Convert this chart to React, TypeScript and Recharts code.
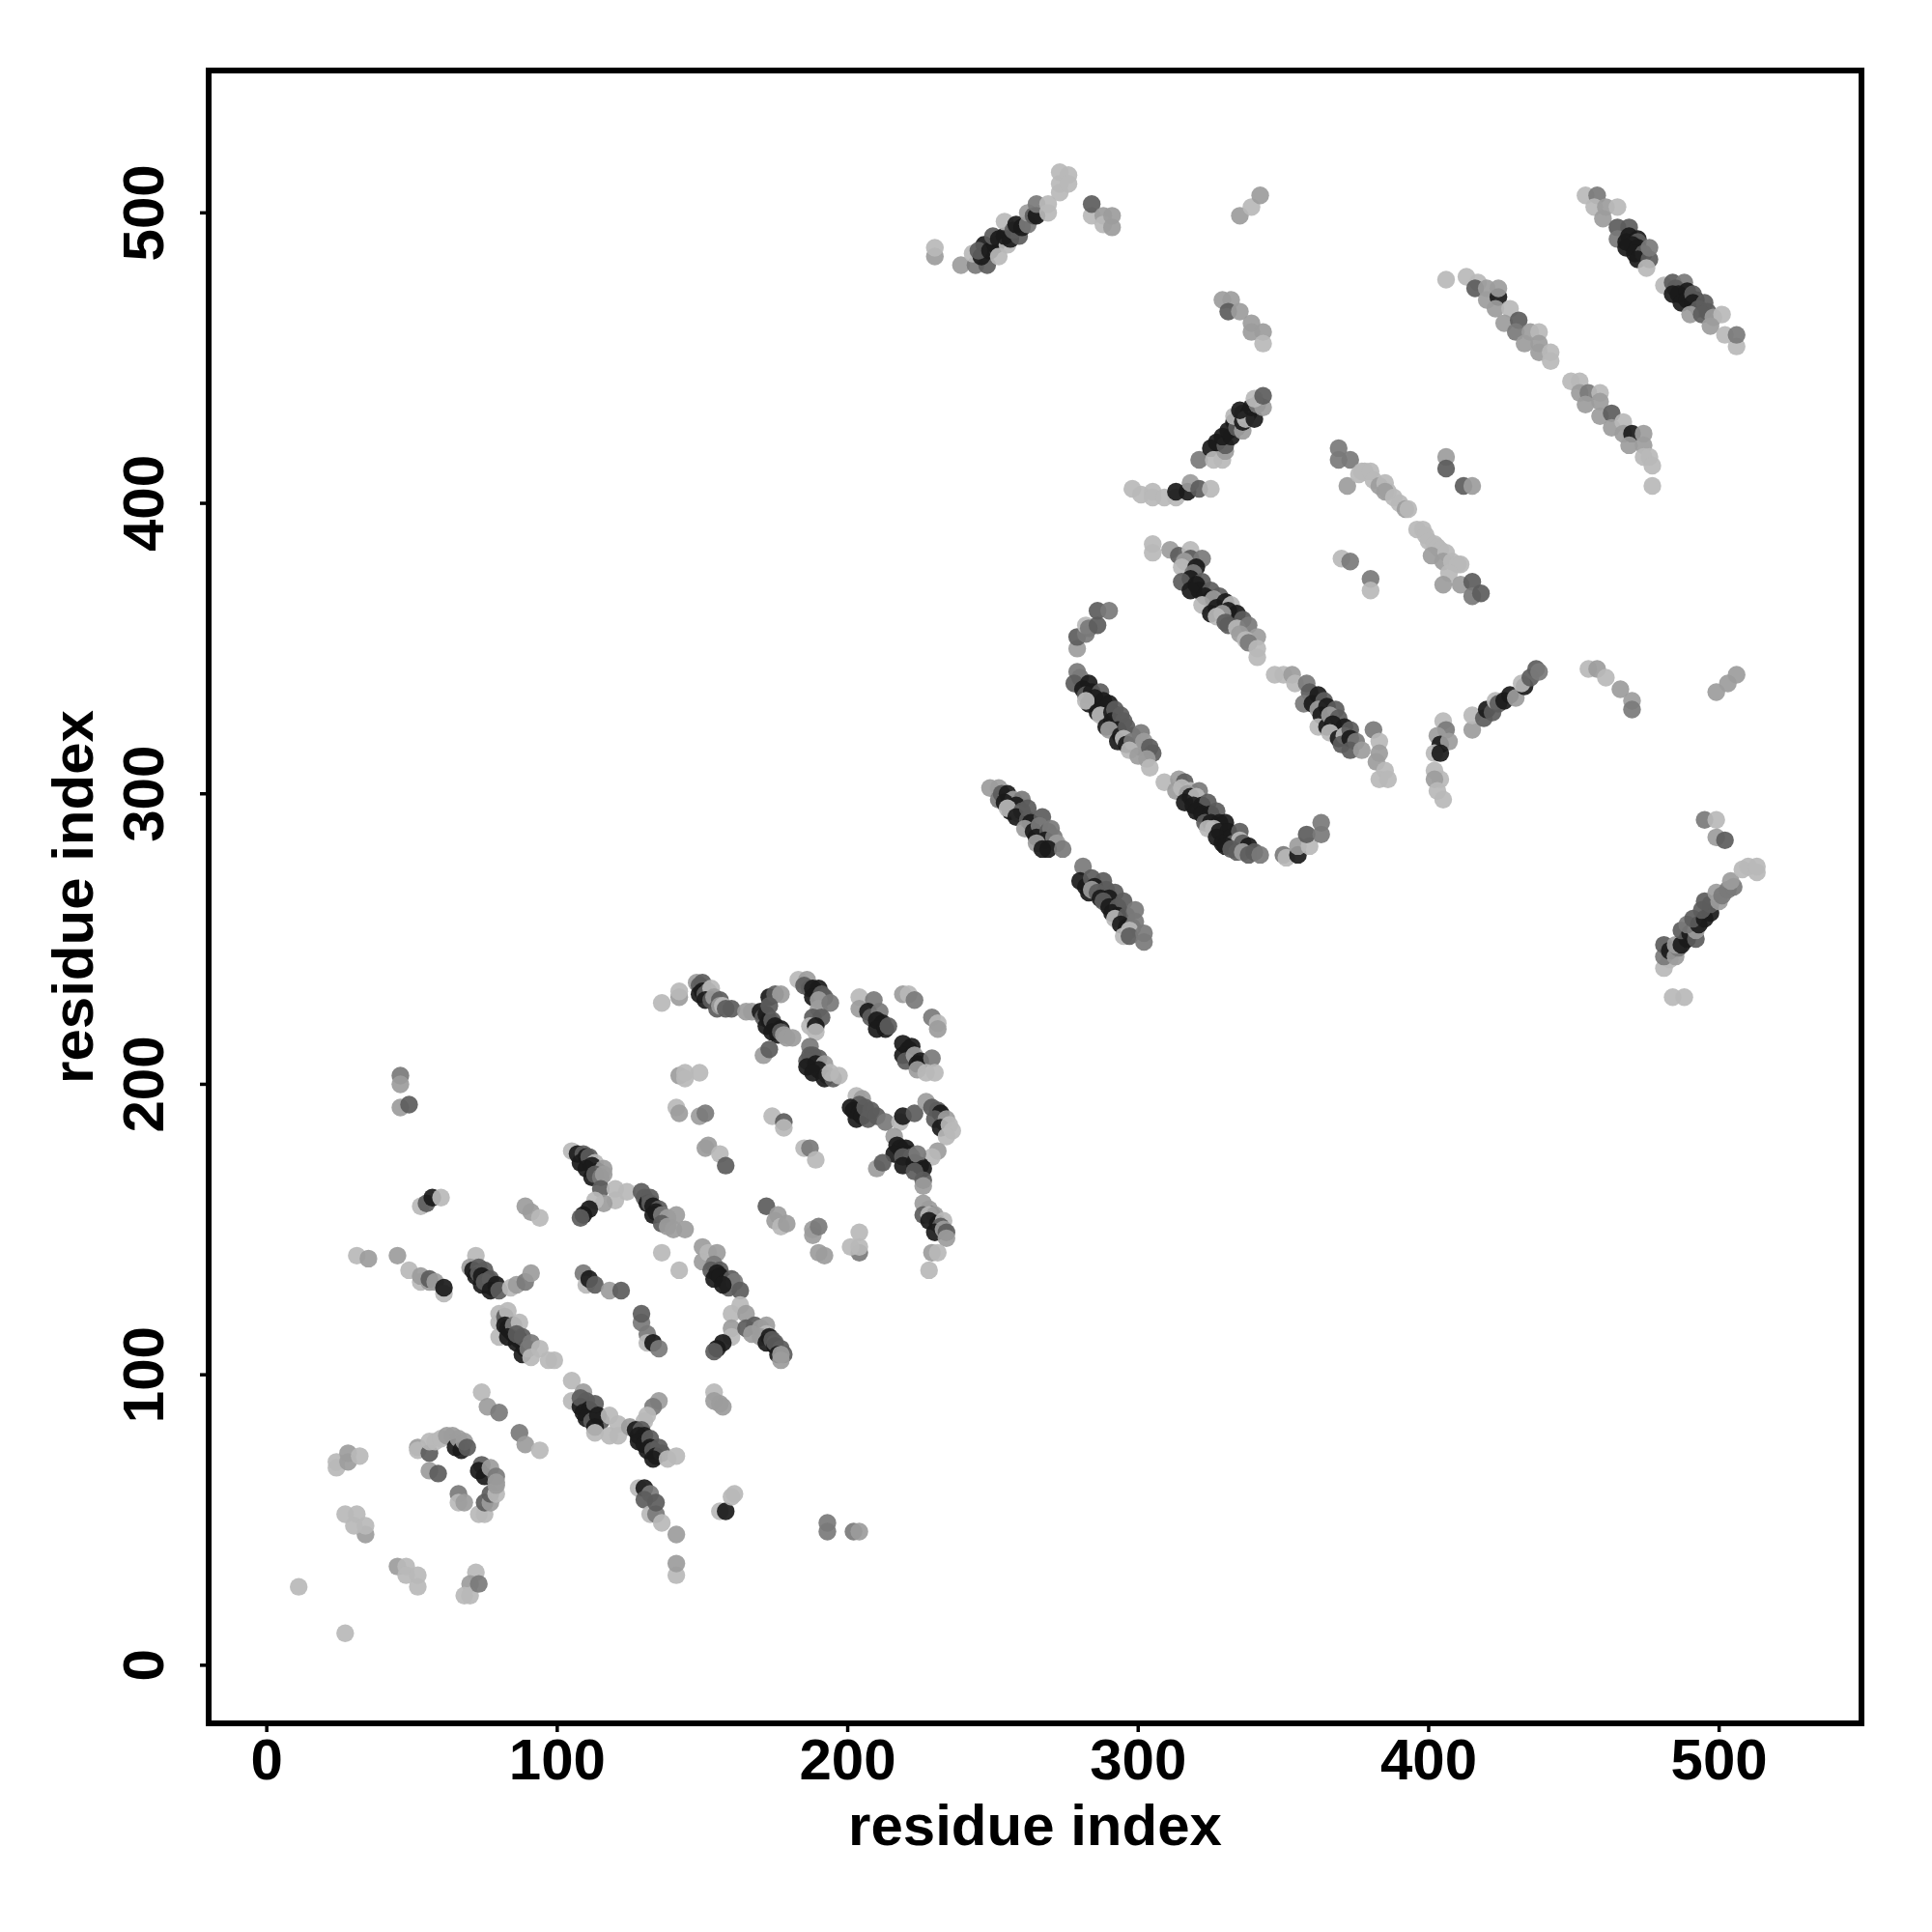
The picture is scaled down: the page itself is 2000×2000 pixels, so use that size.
import { ScatterChart, Scatter, XAxis, YAxis, ReferenceArea } from "recharts"

// contacts: [residue i, residue j, shade level 1 (weak) .. 5 (strong)]
type Contact = [number, number, number]

const cornerLowLeft: Contact[] = [
  [27,11,1],[11,27,1],[45,34,2],[48,34,1],[48,31,1],[52,31,1],[52,27,1],[72,32,1],[70,28,2],[68,24,1],[70,24,1],[73,28,3],
  [27,52,1],[31,52,1],[34,45,2],[30,48,1],[34,48,1],[24,68,1],[24,70,1],[28,70,2],[28,73,2],[32,72,1],
]
const hairpinLow: Contact[] = [
  [52,75,2],[52,74,1],[56,73,4],[56,77,1],[58,77,1],[60,78,1],[62,79,2],[64,79,2],[65,75,5],[66,78,2],[67,74,5],[68,77,2],[69,75,4],
  [56,67,2],[59,66,4],[66,59,3],[66,56,1],[68,56,2],[73,52,1],[75,52,1],[75,56,4],[77,56,2],[77,59,4],[79,59,1],[79,62,2],
  [74,69,4],[73,67,5],[75,65,5],[77,68,2],[79,65,3],[79,63,2],[74,94,1],[76,89,2],[80,87,3],[87,80,3],[89,76,2],[94,74,1],
]
const stripeLeft: Contact[] = [
  [31,141,1],[35,140,2],[45,141,2],[49,136,1],[53,132,1],[53,134,2],[56,132,2],[56,133,4],[58,132,2],[61,128,1],[61,130,5],
  [72,141,1],[70,137,2],[71,136,5],[73,137,4],[72,134,5],[75,136,4],[74,131,5],[73,135,4],[74,134,5],[76,133,5],[76,131,5],[78,130,5],[75,132,4],[77,133,4],[77,129,5],[79,131,5],[80,129,4],[84,130,1],[86,131,2],[89,132,3],[91,135,2],
  [80,121,1],[80,118,1],[80,113,1],[82,120,4],[83,116,5],[83,122,1],[82,117,5],[84,115,5],[85,114,5],[85,117,3],[87,118,1],[83,113,5],[86,111,5],[87,112,5],[89,109,5],[86,114,4],[88,113,4],[88,107,5],[90,109,3],[91,111,3],[91,106,1],[94,109,1],[97,105,1],[99,105,1],
  [105,98,1],[105,91,1],[109,94,2],[110,91,4],[108,89,5],[108,92,4],[111,88,5],[112,87,5],[109,87,5],[113,90,4],[110,85,5],[112,84,4],[115,84,4],[113,82,5],[114,86,5],[118,86,1],[113,80,1],[118,79,1],[121,83,1],[121,79,1],[125,82,2],
  [135,91,2],[133,89,3],[131,86,1],[130,84,1],[127,81,5],[129,81,4],[128,79,5],[130,79,5],[128,77,5],[130,76,5],[132,78,4],[132,75,5],[131,74,5],[133,74,4],[135,75,4],[134,72,5],[136,73,4],[133,71,5],[138,71,1],[141,72,1],
]
const lowCentre: Contact[] = [
  [128,61,1],[130,61,5],[132,59,3],[130,57,4],[132,52,1],[134,52,3],[134,56,4],[136,49,1],[141,45,2],[141,31,1],[141,35,2],
  [129,118,3],[129,121,4],[131,114,3],[131,111,1],[133,111,5],[135,109,3],[109,135,3],[110,131,1],[111,133,5],[113,131,4],[118,129,2],[122,129,4],
  [136,142,1],[142,136,1],[154,94,1],[154,91,2],[156,90,2],[157,89,2],[156,53,1],[158,53,5],[160,58,1],[161,59,1],[193,49,3],[193,46,3],[202,46,3],[204,46,2],
]
const sideDots: Contact[] = [
  [46,203,3],[46,200,2],[46,192,2],[49,193,4],[53,158,1],[55,159,4],[57,161,5],[60,161,1],
  [89,158,2],[91,156,2],[94,154,1],
]
const stripeCentre: Contact[] = [
  [105,177,1],[107,176,5],[109,176,4],[108,173,5],[110,175,5],[111,175,4],[113,173,1],[110,171,5],[112,172,5],[114,170,5],[116,171,2],[112,168,5],[113,169,4],[115,168,3],[116,169,2],[115,164,4],
  [120,164,1],[124,163,1],[120,160,1],[116,159,2],[113,160,1],[111,157,5],[109,155,5],[108,154,4],
  [129,163,4],[130,161,4],[131,159,5],[132,161,4],[132,159,4],[133,158,5],[135,157,4],[134,156,5],[133,155,5],[136,155,3],[138,154,2],[141,155,2],[136,152,4],[138,151,2],[140,150,2],[144,150,2],
  [150,144,2],[150,139,2],[152,142,1],[155,142,2],[154,138,3],[153,136,4],[156,136,4],[155,135,5],[154,133,5],[156,134,5],[158,132,5],[160,133,4],[159,130,4],[161,132,3],[157,131,5],[163,129,4],
  [163,124,1],[160,121,1],[165,121,2],[160,116,2],[160,113,1],[157,111,5],[155,109,5],[154,108,4],[165,116,4],
  [168,117,4],[172,117,2],[170,116,2],[172,114,1],[167,114,2],[170,113,2],[173,113,5],[172,111,5],[174,112,4],[175,110,5],[175,111,4],[177,109,4],[176,107,5],[178,107,4],[177,107,2],[177,105,2],
]
const blockTop: Contact[] = [
  [136,228,1],[142,230,2],[142,232,1],[148,235,2],[150,235,4],[149,234,4],[150,232,5],[149,231,5],[152,232,4],[151,231,4],[153,233,1],[151,229,5],[153,229,4],[154,230,2],[156,229,4],[155,226,4],[156,227,2],[157,227,1],[158,226,4],[160,226,4],
  [165,225,2],[167,225,2],[170,225,5],[171,223,4],[172,224,5],[173,222,5],[172,220,5],[174,222,4],[175,220,5],[174,218,5],[176,217,5],[177,219,5],[177,218,4],[178,217,2],[179,216,2],[181,216,2],
  [173,230,5],[175,231,4],[177,231,2],[173,227,4],[171,210,2],[173,212,4],
  [183,236,1],[186,236,2],[185,234,4],[187,233,4],[188,233,5],[190,233,5],[188,230,5],[191,231,4],[192,230,4],[190,229,2],[190,226,2],[194,228,3],
  [188,223,4],[191,223,4],[187,220,1],[189,220,5],[189,218,1],[187,213,3],[187,210,4],[188,210,4],[190,209,4],[186,208,4],[189,207,5],[192,207,2],[186,206,5],[190,205,5],[188,204,5],[193,203,4],[192,202,5],[195,202,4],[194,204,1],[197,203,1],
  [204,230,1],[209,229,3],[204,226,2],[207,225,5],[208,223,4],[211,225,3],[210,222,5],[212,221,5],[210,219,5],[213,219,5],[214,220,4],
  [219,231,2],[221,231,1],[223,229,3],[229,223,3],[231,221,1],[231,219,2],
  [219,214,5],[221,212,5],[222,213,5],[219,210,5],[222,210,5],[220,208,4],[223,210,2],[224,207,5],[225,208,5],[229,209,3],[224,205,2],[227,204,1],[230,204,1],
]
const blockMiddle: Contact[] = [
  [142,203,2],[144,204,1],[149,204,1],[144,202,1],[141,192,1],[142,190,2],[149,189,2],[151,190,3],[174,189,1],[178,187,4],[178,185,1],
  [152,179,2],[151,178,2],[156,176,1],[158,172,4],[185,178,1],[187,178,3],[189,174,1],
  [172,158,4],[175,153,2],[176,155,2],[177,151,1],[179,152,2],[188,150,2],[188,148,2],[190,151,3],[190,142,2],[192,141,2],
  [204,149,1],[204,142,3],[201,144,1],[204,144,1],
]
const blockRight: Contact[] = [
  [203,196,1],[205,195,2],[204,193,4],[202,191,5],[201,192,5],[204,190,5],[203,188,5],[205,189,5],[206,192,4],[208,191,4],[207,188,4],[210,189,4],[213,187,3],
  [218,187,1],[219,189,5],[223,190,4],[227,194,2],[229,192,4],[231,191,4],[232,190,5],[230,188,4],[233,187,4],[234,188,2],[232,185,5],[235,186,1],[236,184,1],[234,182,1],[231,177,2],[229,175,1],
  [216,182,2],[218,178,5],[217,179,5],[220,178,5],[216,176,5],[221,176,5],[222,175,4],[219,175,4],[219,172,5],[223,173,5],[225,172,5],[224,176,3],[226,171,5],[223,170,4],[226,167,4],[226,165,2],[210,171,2],[212,173,4],
  [226,159,2],[228,157,2],[226,155,4],[229,155,4],[228,155,1],[230,155,2],[228,153,5],[231,152,5],[233,153,1],[232,151,4],[230,149,5],[233,150,2],[234,149,4],[234,147,2],[229,142,2],[231,142,1],[228,136,1],
]
const topArm: Contact[] = [
  [230,485,2],[230,488,1],[239,482,2],[244,482,3],[243,486,1],[248,482,4],[247,489,5],[246,485,5],[245,487,4],[249,487,5],[251,489,5],[250,492,4],[252,485,1],[252,491,5],[255,489,1],[254,492,5],[254,497,1],
  [256,491,5],[259,492,4],[257,494,4],[258,496,5],[260,495,5],[262,496,3],[262,500,2],[264,499,4],[265,499,5],[265,503,3],[269,500,1],[269,503,1],[273,507,1],[273,510,1],[273,514,1],[276,513,1],[276,510,1],
  [284,499,1],[284,503,4],[288,499,2],[288,496,1],[291,495,2],[291,499,2],[335,499,2],[339,502,1],[342,506,2],
]
const upperHelix: Contact[] = [
  [329,470,2],[332,470,2],[331,466,4],[335,466,2],[339,462,2],[339,459,2],[343,459,2],[343,455,1],
  [321,415,3],[325,419,5],[326,415,1],[329,415,1],[330,418,2],[327,421,5],[330,420,4],[329,423,5],[332,423,5],[331,425,5],[333,428,5],[334,426,4],[336,425,2],[333,430,1],[336,428,5],[336,431,4],[338,431,5],[337,429,1],[335,432,5],[340,429,5],[339,433,5],[341,434,3],[343,433,2],[340,436,1],[343,437,4],
  [298,405,1],[301,403,1],[305,404,1],[305,402,1],[309,402,1],[313,402,1],[313,404,5],[317,404,5],[318,407,2],[321,405,4],[325,405,1],
]
const bandA: Contact[] = [
  [249,302,2],[252,302,2],[252,298,3],[253,300,4],[255,300,5],[257,298,2],[254,297,5],[260,298,3],[258,296,5],[256,294,5],[255,295,1],[259,293,1],[260,294,4],[258,292,5],[262,295,4],[262,291,4],[263,290,5],[267,292,4],[261,288,2],[264,287,5],[266,289,3],[265,285,5],[269,287,4],[270,288,3],[268,284,5],[271,285,3],[272,283,2],[265,283,2],[267,281,5],[269,281,5],[274,281,3],
  [281,275,3],[280,270,5],[282,268,5],[284,271,4],[288,270,4],[285,268,5],[283,266,5],[284,267,2],[286,266,4],[289,267,4],[287,264,5],[292,266,4],[290,264,5],[288,263,4],[290,261,5],[293,261,4],[291,259,5],[295,263,4],[293,258,5],[292,257,1],[296,258,4],[299,260,3],[294,255,5],[296,254,5],[298,254,3],[299,256,3],[297,253,1],[295,251,1],[297,251,4],[302,252,3],[302,249,3],
]
const bandB: Contact[] = [
  [279,350,2],[279,354,4],[282,355,3],[282,358,1],[283,357,3],[286,358,4],[286,363,4],[290,363,3],
  [279,342,3],[280,340,3],[278,338,4],[283,338,5],[281,336,5],[282,334,4],[284,335,5],[287,335,4],[285,333,5],[283,331,5],[282,332,1],[288,332,5],[290,331,5],[286,328,5],[288,329,5],[287,327,1],[291,328,5],[292,329,4],[289,323,5],[291,325,5],[294,327,4],[295,325,4],[293,322,5],[290,322,2],[294,320,5],[296,323,4],[298,320,4],[293,318,5],[295,319,1],[296,317,5],[298,318,3],[301,321,3],[301,316,3],[302,318,2],[297,315,1],[300,313,2],[304,316,4],[305,314,4],[303,312,2],[304,309,1],
]
const bandC: Contact[] = [
  [309,304,1],[314,305,2],[316,304,4],[313,301,2],[315,302,1],[318,301,1],[321,301,3],[317,300,2],[318,299,5],[320,299,1],[316,297,5],[319,296,5],[322,296,5],[324,297,4],[320,294,5],[322,293,5],[325,293,5],[327,294,4],[323,290,4],[325,290,5],[328,290,5],[330,290,5],[324,288,1],[326,288,1],[328,287,5],[331,287,5],[327,285,5],[332,285,5],[335,287,4],[329,283,5],[333,283,4],[335,284,1],[336,283,4],[330,282,5],[332,281,4],[338,282,5],[334,280,4],[336,280,2],[338,279,4],[340,280,4],[342,279,3],
  [350,279,3],[351,278,1],[355,279,5],[355,282,2],[359,282,1],[358,286,4],[363,286,3],[363,290,3],
]
const bandD: Contact[] = [
  [305,386,1],[305,383,1],[311,384,2],[314,382,4],[318,384,1],[318,381,4],[322,381,3],[316,380,2],[315,378,1],[320,378,5],[319,376,3],[318,374,5],[315,373,4],[322,373,4],[320,372,5],[321,370,5],[318,370,5],[325,370,4],[323,368,5],[328,368,4],[325,367,5],[322,365,1],[326,367,2],[330,366,5],[327,364,5],[332,365,1],[331,363,5],[325,362,5],[334,362,5],[329,362,2],[327,361,1],[336,360,4],[330,359,4],[331,358,4],[334,357,1],[338,358,3],[335,355,2],[341,354,2],[337,353,1],[338,352,3],[341,350,1],[341,347,1],
]
const bandE: Contact[] = [
  [347,341,1],[350,341,1],[353,341,2],[354,338,1],[358,338,3],[359,335,4],[357,331,3],[360,331,5],[362,334,5],[364,332,4],[362,329,2],[365,330,5],[363,327,5],[362,323,1],[365,323,5],[368,329,4],[366,327,2],[369,326,4],[367,324,5],[371,323,5],[366,321,1],[369,319,5],[371,320,1],[373,322,4],[370,317,4],[373,319,5],[375,318,3],[373,315,4],[377,315,2],
  [381,322,3],[383,318,1],[383,314,2],[382,311,2],[385,308,1],[383,305,1],[386,305,1],
]
const bandF: Contact[] = [
  [405,325,1],[406,322,3],[403,320,2],[404,317,5],[407,318,2],[402,314,1],[404,314,5],[402,308,1],[404,305,1],[402,305,2],[403,301,1],[405,298,1],
  [415,322,2],[415,327,1],[419,326,4],[420,329,5],[422,328,4],[423,332,1],[424,331,4],[426,332,5],[428,334,5],[430,333,2],[433,337,5],[432,338,1],[435,340,4],[437,343,4],[438,342,3],
  [455,343,1],[458,343,2],[461,340,1],[466,336,2],[470,332,2],[470,329,3],[499,335,2],[503,338,2],[506,341,2],
]
const crossRight: Contact[] = [
  [369,419,3],[369,415,3],[373,415,3],[372,406,2],[376,410,1],[378,411,1],[377,411,1],[380,411,1],[381,408,1],[383,406,2],[385,407,1],[386,404,1],[385,404,2],[388,402,1],[390,400,1],[392,398,2],[393,398,1],
  [396,391,1],[398,391,1],[399,389,1],[400,387,1],[402,386,1],[403,385,1],[404,384,1],[401,382,2],[406,383,1],[405,380,2],[408,380,1],[410,379,1],[411,379,1],[407,376,1],[405,372,2],[411,372,2],[415,373,4],[415,368,3],[418,369,4],
  [370,381,1],[373,380,3],[380,374,3],[380,370,1],[406,416,2],[406,412,4],[412,406,4],[415,406,2],
]
const topRight: Contact[] = [
  [406,477,1],[413,478,1],[417,476,1],[416,474,4],[420,474,2],[420,470,2],[424,471,5],[424,474,2],[423,467,2],[428,467,1],[426,462,2],[431,463,4],[430,459,3],[435,459,2],[433,455,2],[438,459,1],[438,455,2],[438,452,2],[442,452,1],[442,449,1],
  [454,506,1],[458,506,3],[457,502,1],[461,502,2],[460,498,2],[465,502,1],[465,495,4],[469,495,4],[465,491,3],[468,490,5],[469,492,5],[472,491,5],[472,490,4],[470,489,5],[468,488,5],[472,488,5],[471,486,5],[474,486,4],[472,484,5],[476,484,4],[476,488,3],[475,481,1],
  [481,475,1],[484,476,4],[488,476,3],[485,474,4],[484,472,5],[486,472,5],[489,473,5],[487,469,5],[489,470,5],[492,470,5],[491,472,4],[491,469,5],[495,469,4],[493,467,4],[496,466,4],[490,465,2],[494,465,4],[498,464,2],[501,465,1],[497,461,2],[502,458,1],[506,454,1],[506,458,3],
  [449,442,1],[452,442,1],[452,438,2],[455,438,3],[459,438,1],[454,434,2],[459,435,2],[459,430,2],[463,431,4],[463,426,2],[467,428,1],[467,424,2],[470,424,5],[474,424,2],[469,420,2],[474,420,2],[474,416,1],[476,416,1],[477,413,1],[477,406,1],
]
const bottomRight: Contact[] = [
  [495,291,3],[499,291,1],[499,285,2],[502,284,4],[484,230,1],[488,230,1],
  [481,240,1],[483,243,1],[481,244,3],[481,248,4],[483,246,5],[485,244,2],[486,247,3],[485,248,2],[487,248,5],[489,250,5],[487,253,4],[490,252,5],[492,250,4],[492,253,2],[489,255,3],[493,255,5],[491,257,4],[495,257,5],[497,259,5],[494,260,4],[497,262,4],[495,263,4],[500,263,2],[499,266,2],[501,265,3],[503,267,3],[505,268,3],[504,270,2],[508,274,1],[510,275,1],[513,273,1],[513,275,1],
]

const contactGroups = [
  cornerLowLeft, hairpinLow, stripeLeft, lowCentre, sideDots, stripeCentre, blockTop, blockMiddle, blockRight, topArm,
  upperHelix, bandA, bandB, bandC, bandD, bandE, bandF, crossRight, topRight, bottomRight,
]

const tickValues = [0, 100, 200, 300, 400, 500]
const shades = ["#b8b8b8", "#9c9c9c", "#7a7a7a", "#5c5c5c", "#1a1a1a"]
const fontFamily = "'Liberation Sans', Arial, sans-serif"

const chartData = contactGroups.flat().map(([i, j, level]) => ({ i, j, level }))

function ContactDot(props: any) {
  return <circle cx={props.cx} cy={props.cy} r={9.2} fill={shades[props.payload.level - 1]} fillOpacity={0.92} />
}

function BottomTick({ x, y, payload }: any) {
  return (
    <text x={x} y={y + 47} textAnchor="middle" fontFamily={fontFamily} fontWeight="bold" fontSize={60} fill="#000">
      {payload.value}
    </text>
  )
}

function LeftTick({ x, y, payload }: any) {
  return (
    <text
      transform={`translate(${x - 36},${y}) rotate(-90)`}
      textAnchor="middle"
      fontFamily={fontFamily}
      fontWeight="bold"
      fontSize={60}
      fill="#000"
    >
      {payload.value}
    </text>
  )
}

export default function App() {
  return (
    <div style={{ position: "absolute", left: 0, top: 0, width: 2000, height: 2000, background: "#fff" }}>
      <ScatterChart width={2000} height={2000} margin={{ top: 73, right: 73, bottom: 16, left: 16 }}>
        <XAxis
          type="number"
          dataKey="i"
          domain={[-20, 549]}
          ticks={tickValues}
          height={200}
          axisLine={false}
          tickSize={9}
          tickLine={{ stroke: "#000", strokeWidth: 3.5 }}
          tick={<BottomTick />}
          interval={0}
          allowDataOverflow
          label={{
            value: "residue index",
            position: "insideBottom",
            offset: 74,
            style: { fontFamily, fontWeight: "bold", fontSize: 60, fill: "#000" },
          }}
        />
        <YAxis
          type="number"
          dataKey="j"
          domain={[-20, 549]}
          ticks={tickValues}
          width={200}
          axisLine={false}
          tickSize={9}
          tickLine={{ stroke: "#000", strokeWidth: 3.5 }}
          tick={<LeftTick />}
          interval={0}
          allowDataOverflow
          label={{
            value: "residue index",
            angle: -90,
            position: "insideLeft",
            offset: 59,
            style: { fontFamily, fontWeight: "bold", fontSize: 60, fill: "#000", textAnchor: "middle" },
          }}
        />
        <Scatter data={chartData} shape={<ContactDot />} isAnimationActive={false} />
        <ReferenceArea x1={-20} x2={549} y1={-20} y2={549} fill="none" stroke="#000" strokeWidth={6} ifOverflow="visible" />
      </ScatterChart>
    </div>
  )
}
